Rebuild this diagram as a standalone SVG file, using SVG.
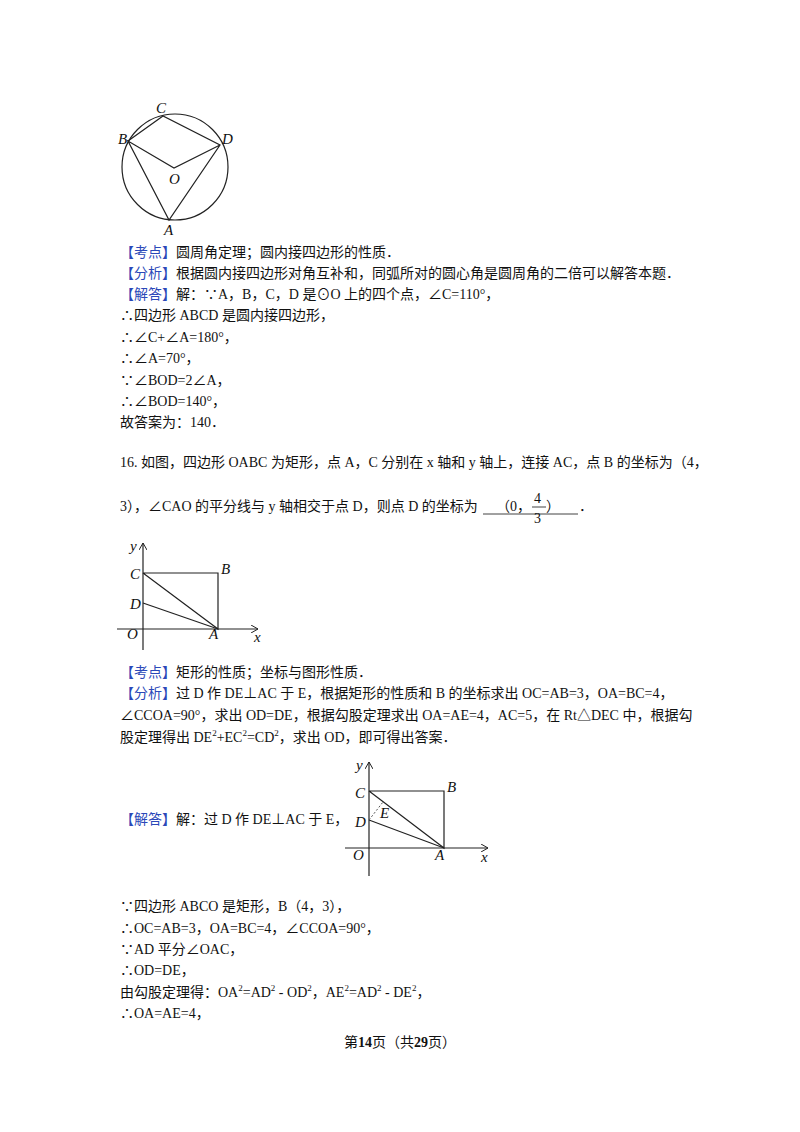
<svg xmlns="http://www.w3.org/2000/svg" width="800" height="1132" viewBox="0 0 800 1132">
<style>
text{font-family:"Liberation Serif","Noto Sans CJK SC",serif;font-size:14px;fill:#111}
.b{fill:#2b48b8}
.l{font-style:italic;font-size:15px}
.g{fill:none;stroke:#222;stroke-width:1.2}
</style>
<defs><marker id="ar" markerWidth="8" markerHeight="8" refX="7" refY="4" orient="auto" markerUnits="userSpaceOnUse"><path d="M0,0 L7,4 L0,8" fill="none" stroke="#222" stroke-width="1"/></marker></defs>
<rect width="800" height="1132" fill="#fff"/>
<g id="fig1">
<circle class="g" cx="175" cy="167" r="53"/>
<polyline class="g" points="128,141 163,116 220,145 169,220 128,141 174,168 220,145"/>
<text class="l" x="156" y="113">C</text><text class="l" x="118" y="144">B</text><text class="l" x="222" y="144">D</text><text class="l" x="169" y="184">O</text><text class="l" x="164" y="235">A</text>
</g>
<g id="text1">
<text x="120" y="257"><tspan class="b">【考点】</tspan>圆周角定理；圆内接四边形的性质．</text>
<text x="120" y="278"><tspan class="b">【分析】</tspan>根据圆内接四边形对角互补和，同弧所对的圆心角是圆周角的二倍可以解答本题．</text>
<text x="120" y="299"><tspan class="b">【解答】</tspan>解：∵A，B，C，D 是⊙O 上的四个点，∠C=110°，</text>
<text x="120" y="320">∴四边形 ABCD 是圆内接四边形，</text>
<text x="120" y="342">∴∠C+∠A=180°，</text>
<text x="120" y="363">∴∠A=70°，</text>
<text x="120" y="385">∵∠BOD=2∠A，</text>
<text x="120" y="406">∴∠BOD=140°，</text>
<text x="120" y="427">故答案为：140．</text>
<text x="120" y="467">16. 如图，四边形 OABC 为矩形，点 A，C 分别在 x 轴和 y 轴上，连接 AC，点 B 的坐标为（4，</text>
<text x="120" y="511">3），∠CAO 的平分线与 y 轴相交于点 D，则点 D 的坐标为</text>
<line x1="483" y1="514" x2="578" y2="514" stroke="#111" stroke-width="0.8"/>
<text x="496" y="511">（0，</text>
<text x="534" y="503" font-size="16">4</text><line x1="532" y1="507" x2="546" y2="507" stroke="#111" stroke-width="0.8"/><text x="534" y="523" font-size="16">3</text>
<text x="546" y="511">）</text>
<text x="579" y="511">．</text>
</g>
<g id="fig2">
<line class="g" x1="143" y1="650" x2="143" y2="543" marker-end="url(#ar)"/>
<line class="g" x1="117" y1="629" x2="258" y2="629" marker-end="url(#ar)"/>
<polyline class="g" points="143,573 218,573 218,629 143,573"/>
<line class="g" x1="143" y1="603" x2="218" y2="629"/>
<text class="l" x="130" y="551">y</text><text class="l" x="130" y="579">C</text><text class="l" x="221" y="574">B</text><text class="l" x="130" y="609">D</text><text class="l" x="127" y="639">O</text><text class="l" x="209" y="639">A</text><text class="l" x="254" y="642">x</text>
</g>
<g id="text2">
<text x="120" y="677"><tspan class="b">【考点】</tspan>矩形的性质；坐标与图形性质．</text>
<text x="120" y="698"><tspan class="b">【分析】</tspan>过 D 作 DE⊥AC 于 E，根据矩形的性质和 B 的坐标求出 OC=AB=3，OA=BC=4，</text>
<text x="120" y="720">∠CCOA=90°，求出 OD=DE，根据勾股定理求出 OA=AE=4，AC=5，在 Rt△DEC 中，根据勾</text>
<text x="120" y="742">股定理得出 DE<tspan font-size="9" dy="-6">2</tspan><tspan dy="6">+EC</tspan><tspan font-size="9" dy="-6">2</tspan><tspan dy="6">=CD</tspan><tspan font-size="9" dy="-6">2</tspan><tspan dy="6">，求出 OD，即可得出答案．</tspan></text>
<text x="120" y="824"><tspan class="b">【解答】</tspan>解：过 D 作 DE⊥AC 于 E，</text>
</g>
<g id="fig3">
<line class="g" x1="369" y1="876" x2="369" y2="762" marker-end="url(#ar)"/>
<line class="g" x1="345" y1="848" x2="488" y2="848" marker-end="url(#ar)"/>
<polyline class="g" points="369,791 444,791 444,848 369,791"/>
<line class="g" x1="369" y1="820" x2="444" y2="848"/>
<line x1="369" y1="820" x2="383" y2="802" stroke="#555" stroke-width="1" stroke-dasharray="2,2"/>
<text class="l" x="356" y="770">y</text><text class="l" x="355" y="798">C</text><text class="l" x="447" y="792">B</text><text class="l" x="355" y="827">D</text><text class="l" x="380" y="818">E</text><text class="l" x="353" y="860">O</text><text class="l" x="435" y="860">A</text><text class="l" x="481" y="862">x</text>
</g>
<g id="text3">
<text x="120" y="911">∵四边形 ABCO 是矩形，B（4，3），</text>
<text x="120" y="933">∴OC=AB=3，OA=BC=4，∠CCOA=90°，</text>
<text x="120" y="954">∵AD 平分∠OAC，</text>
<text x="120" y="975">∴OD=DE，</text>
<text x="120" y="997">由勾股定理得：OA<tspan font-size="9" dy="-6">2</tspan><tspan dy="6">=AD</tspan><tspan font-size="9" dy="-6">2</tspan><tspan dy="6"> - OD</tspan><tspan font-size="9" dy="-6">2</tspan><tspan dy="6">，AE</tspan><tspan font-size="9" dy="-6">2</tspan><tspan dy="6">=AD</tspan><tspan font-size="9" dy="-6">2</tspan><tspan dy="6"> - DE</tspan><tspan font-size="9" dy="-6">2</tspan><tspan dy="6">，</tspan></text>
<text x="120" y="1018">∴OA=AE=4，</text>
<text x="400" y="1047" text-anchor="middle" font-size="13">第<tspan font-weight="bold">14</tspan>页（共<tspan font-weight="bold">29</tspan>页）</text>
</g>
</svg>
